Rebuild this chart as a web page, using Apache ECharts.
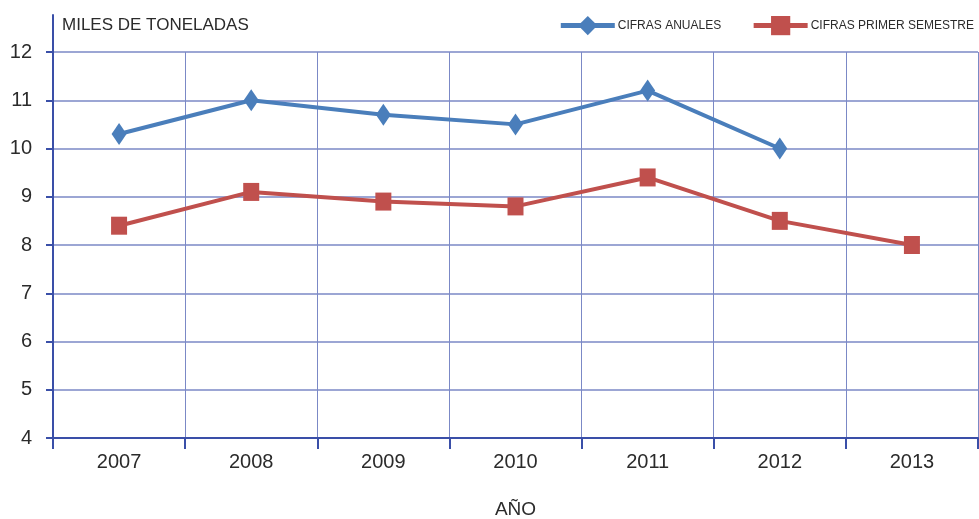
<!DOCTYPE html>
<html>
<head>
<meta charset="utf-8">
<script src="https://cdn.jsdelivr.net/npm/echarts@6/dist/echarts.min.js"></script>
<style>
  html, body { margin: 0; padding: 0; background: #fff; }
  #chart { width: 979px; height: 519px; }
</style>
</head>
<body>
<div id="chart"></div>
<script>
// datos
const anios = ["2007", "2008", "2009", "2010", "2011", "2012", "2013"];
const cifrasAnuales = [10.3, 11.0, 10.7, 10.5, 11.2, 10.0, null];
const cifrasSemestre = [8.4, 9.1, 8.9, 8.8, 9.4, 8.5, 8.0];

const ejeColor = "#3a4fa8";
const gridColor = "#7b89c6";
const textoColor = "#2b2b2b";
const fuente = "'Liberation Sans', Arial, sans-serif";

const chart = echarts.init(document.getElementById('chart'));

const option = {
  backgroundColor: "#ffffff",
  animation: false,
  textStyle: { fontFamily: fuente, color: textoColor },
  legend: {
    top: 11,
    right: 0,
    itemWidth: 54,
    itemHeight: 24,
    itemGap: 30,
    lineStyle: { width: 5 },
    textStyle: { fontSize: 12, color: textoColor, fontFamily: fuente, padding: [0, 0, 0, -2] },
    data: ["CIFRAS ANUALES", "CIFRAS PRIMER SEMESTRE"]
  },
  grid: [
    { left: 53, right: 1, top: 52, bottom: 81, outerBoundsMode: "none", containLabel: false },
    { left: 53, width: 0, top: 15, bottom: 81, show: false, outerBoundsMode: "none", containLabel: false }
  ],
  xAxis: [{
    type: "category",
    data: anios,
    boundaryGap: true,
    name: "AÑO",
    nameLocation: "middle",
    nameGap: 62,
    nameTextStyle: { fontSize: 19, color: textoColor },
    axisLine: { lineStyle: { color: ejeColor, width: 2 } },
    axisTick: { show: true, length: 11, lineStyle: { color: ejeColor, width: 2 } },
    axisLabel: { fontSize: 20, color: textoColor, margin: 14 },
    splitLine: { show: true, lineStyle: { color: gridColor, width: 1 } }
  }, {
    gridIndex: 1,
    type: "value",
    show: false
  }],
  yAxis: [{
    type: "value",
    min: 4,
    max: 12,
    interval: 1,
    name: "MILES DE TONELADAS",
    nameLocation: "end",
    nameGap: 18,
    nameTextStyle: { fontSize: 17, color: textoColor, align: "left", padding: [0, 0, 0, 9] },
    axisLine: { show: true, lineStyle: { color: ejeColor, width: 2 } },
    axisTick: { show: true, length: 7, lineStyle: { color: ejeColor, width: 2 } },
    axisLabel: { fontSize: 20, color: textoColor, margin: 21 },
    splitLine: { show: true, lineStyle: { color: gridColor, width: 1.5 } }
  }, {
    // solo la prolongación de la línea del eje por encima del 12
    gridIndex: 1,
    type: "value",
    axisLine: { show: true, lineStyle: { color: ejeColor, width: 2 } },
    axisTick: { show: false },
    axisLabel: { show: false },
    splitLine: { show: false }
  }],
  series: [{
    name: "CIFRAS ANUALES",
    type: "line",
    data: cifrasAnuales,
    symbol: "diamond",
    symbolSize: [15, 22],
    lineStyle: { color: "#4a7ebb", width: 4 },
    itemStyle: { color: "#4a7ebb" }
  }, {
    name: "CIFRAS PRIMER SEMESTRE",
    type: "line",
    data: cifrasSemestre,
    symbol: "rect",
    symbolSize: [16, 18],
    lineStyle: { color: "#c0504d", width: 4 },
    itemStyle: { color: "#c0504d" }
  }]
};

chart.setOption(option);
window.onresize = function () { chart.resize(); };
</script>
</body>
</html>
